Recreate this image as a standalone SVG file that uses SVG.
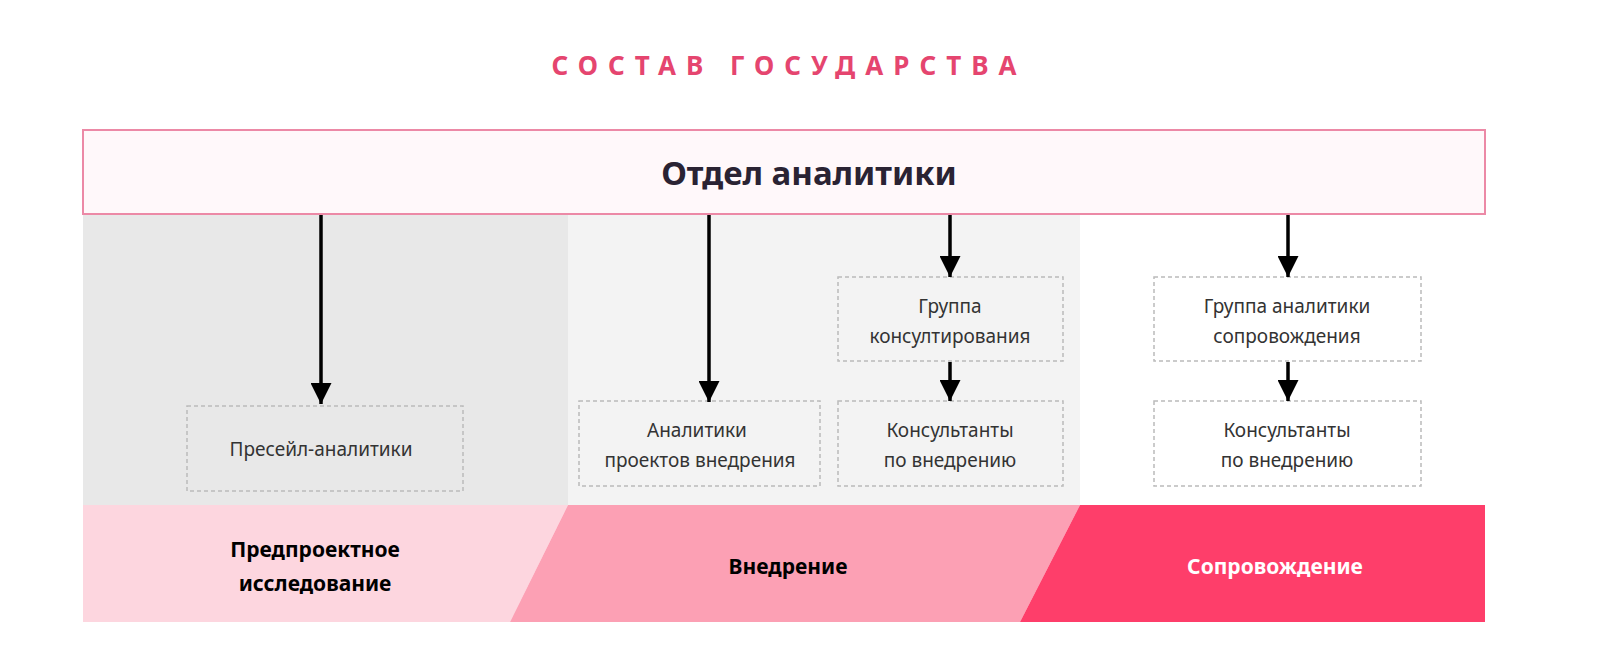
<svg xmlns="http://www.w3.org/2000/svg" width="1600" height="660" viewBox="0 0 1600 660">
<style>
text{font-family:"Noto Sans","Open Sans",sans-serif;text-anchor:middle}
.t{font-size:19px;fill:#333}
.b{font-size:21px;font-weight:bold}
.box{fill:none;stroke:#bbb;stroke-width:1.5;stroke-dasharray:4 3}
.ln{stroke:#000;stroke-width:3.5}
</style>
<defs><marker id="a" viewBox="0 0 10 10" refX="10" refY="5" markerWidth="6" markerHeight="6" markerUnits="strokeWidth" orient="auto"><path d="M0,0L10,5L0,10z" fill="#000"/></marker></defs>
<rect width="1600" height="660" fill="#fff"/>
<text x="789" y="75" font-size="26" font-weight="bold" fill="#e5456f" letter-spacing="10">СОСТАВ ГОСУДАРСТВА</text>
<rect x="83" y="214" width="485" height="291" fill="#e8e8e8"/>
<rect x="568" y="214" width="512" height="291" fill="#f3f3f3"/>
<g id="phases">
<polygon points="83,505 568,505 510,622 83,622" fill="#fdd6df"/>
<polygon points="568,505 1080,505 1020,622 510,622" fill="#fca0b4"/>
<polygon points="1080,505 1485,505 1485,622 1020,622" fill="#fe3e6a"/>
<text class="b" x="315" y="557" fill="#000">Предпроектное</text>
<text class="b" x="315" y="591" fill="#000">исследование</text>
<text class="b" x="788" y="574" fill="#000">Внедрение</text>
<text class="b" x="1275" y="574" fill="#fff">Сопровождение</text>
</g>
<g id="head"><rect x="83" y="130" width="1402" height="84" fill="#fff8fa" stroke="#ec89a6" stroke-width="2"/>
<text x="809" y="185" font-size="33" font-weight="bold" fill="#2a2333">Отдел аналитики</text></g>
<g id="n1"><rect class="box" x="187" y="406" width="276" height="85"/><text class="t" x="321" y="456">Пресейл-аналитики</text></g>
<g id="n2"><rect class="box" x="579" y="401" width="241" height="85"/><text class="t" x="697" y="437">Аналитики</text><text class="t" x="700" y="467">проектов внедрения</text></g>
<g id="n3"><rect class="box" x="838" y="277" width="225" height="84"/><text class="t" x="950" y="313">Группа</text><text class="t" x="950" y="343">консултирования</text></g>
<g id="n4"><rect class="box" x="838" y="401" width="225" height="85"/><text class="t" x="950" y="437">Консультанты</text><text class="t" x="950" y="467">по внедрению</text></g>
<g id="n5"><rect class="box" x="1154" y="277" width="267" height="84"/><text class="t" x="1287" y="313">Группа аналитики</text><text class="t" x="1287" y="343">сопровождения</text></g>
<g id="n6"><rect class="box" x="1154" y="401" width="267" height="85"/><text class="t" x="1287" y="437">Консультанты</text><text class="t" x="1287" y="467">по внедрению</text></g>
<g id="connectors">
<line class="ln" x1="321" y1="215" x2="321" y2="404" marker-end="url(#a)"/>
<line class="ln" x1="709" y1="215" x2="709" y2="402" marker-end="url(#a)"/>
<line class="ln" x1="950" y1="215" x2="950" y2="277" marker-end="url(#a)"/>
<line class="ln" x1="950" y1="362" x2="950" y2="401" marker-end="url(#a)"/>
<line class="ln" x1="1288" y1="215" x2="1288" y2="277" marker-end="url(#a)"/>
<line class="ln" x1="1288" y1="362" x2="1288" y2="401" marker-end="url(#a)"/>
</g>
</svg>
